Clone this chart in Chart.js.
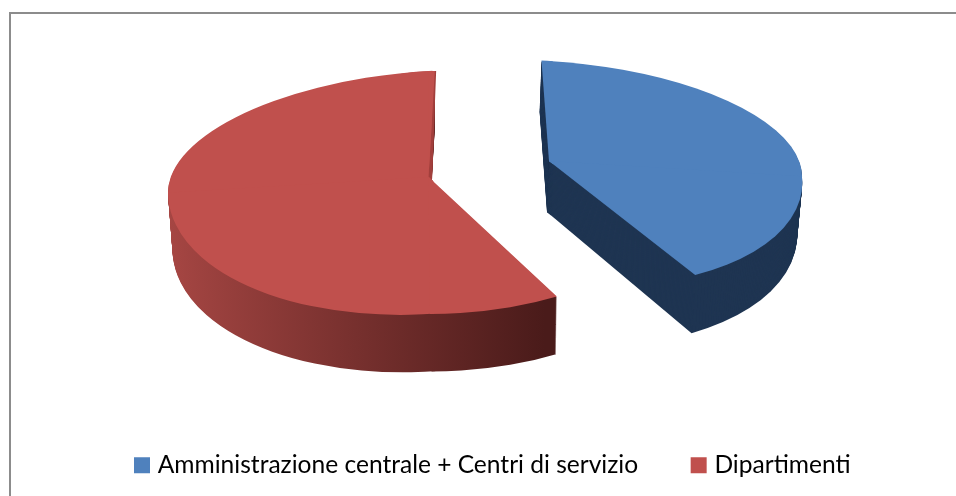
<!DOCTYPE html>
<html><head><meta charset="utf-8">
<script src="https://cdn.jsdelivr.net/npm/chart.js@4"></script>
<style>
html,body{margin:0;padding:0;background:#fff;width:956px;height:496px;overflow:hidden}
#frame{position:absolute;left:9px;top:12px;right:-10px;bottom:-10px;border-left:2px solid #8c8c8c;border-top:2px solid #8c8c8c}
canvas{position:absolute;left:0;top:0}
</style></head><body>
<div id="frame"></div>
<canvas id="c" width="956" height="496"></canvas>
<script>
const categories = ["Amministrazione centrale + Centri di servizio", "Dipartimenti"];
const shareValues = [41.5, 58.5];
const faceColors = ["#4f81bd", "#c0504d"];

// Projection of each slice: a flat Chart.js arc seen at an angle, exploded from the centre.
const views = [
  { rot: 0,
    top: {ax:549, ay:161, rx:253, k:0.06, kr:0.06, up:100, down:125.4, c:13},
    bottom: {ax:547, ay:212, rx:250, k:0.06, kr:0.06, up:100, down:134, c:13} },
  { rot: 3.1,
    top: {ax:428.5, ay:177, rx:260.5, k:-0.06, kr:0, up:106, down:137, c:1.5},
    bottom: {ax:428.5, ay:235, rx:256, k:-0.06, kr:0, up:106, down:136.5, c:3},
    wall: {ax:432, ay:180, rx:170, k:-0.03, kr:0, up:109, down:109, c:0}, wallColor:"#a23f3c" }
];
const depthSteps = 58;
const legendShift = {x:81.5, y:-8.5};

function mix(a,b,t){const o={};for(const n in a)o[n]=a[n]+(b[n]-a[n])*t;return o;}

function drawPiece(ctx, el, p, rot, R, fill, halves){
  const shade = Object.create(el);
  shade.options = {backgroundColor:fill,borderColor:fill,borderWidth:0,borderAlign:'center',borderRadius:0,offset:0,spacing:0,circular:true};
  const lap = 3;
  for(const h of halves){
    for(const w of [-1,1]){
      ctx.save();
      ctx.transform(p.rx/R, (w>0?p.kr:p.k)*p.rx/R, (h>0?p.c:0)/R, (h>0?p.down:p.up)/R, p.ax, p.ay);
      ctx.beginPath();
      ctx.rect(w<0?-2*R:0, h<0?-2*R:0, 2*R+(w<0?lap:0), 2*R+(h<0?lap:0));
      ctx.clip();
      ctx.rotate(rot*Math.PI/180);
      ctx.translate(-el.x,-el.y);
      shade.draw(ctx);
      ctx.restore();
    }
  }
}

const tiltedPie = {
  id:'tiltedPie',
  afterLayout(chart){
    const l = chart.legend;
    l.left += legendShift.x; l.right += legendShift.x;
    l.top += legendShift.y; l.bottom += legendShift.y;
  },
  beforeDatasetsDraw(chart){
    const ctx = chart.ctx, arcs = chart.getDatasetMeta(0).data;
    arcs.forEach((el,i)=>{
      const v = views[i], R = el.outerRadius;
      for(let s=depthSteps;s>=1;s--){
        const p = mix(v.top, v.bottom, s/depthSteps);
        let fill = "#1f3552";
        if(i===1){
          fill = ctx.createLinearGradient(el.x-R,0,el.x+R*0.49,0);
          fill.addColorStop(0,"#a64643");
          fill.addColorStop(1,"#4a1b1a");
        }
        drawPiece(ctx, el, p, v.rot, R, fill, [-1,1]);
      }
      if(v.wall) drawPiece(ctx, el, v.wall, v.rot, R, v.wallColor, [-1]);
      drawPiece(ctx, el, v.top, v.rot, R, faceColors[i], [-1,1]);
    });
    return false;
  }
};

new Chart(document.getElementById('c'),{
  type:'pie',
  data:{labels:categories,datasets:[{data:shareValues,backgroundColor:faceColors,borderWidth:0}]},
  options:{
    responsive:false,animation:false,rotation:-1.7,
    plugins:{
      tooltip:{enabled:false},
      legend:{position:'bottom',align:'start',labels:{
        padding:57,boxWidth:7,boxHeight:7,color:'#000',
        font:{family:'Lato',size:24.56},
        generateLabels(chart){
          return categories.map((t,i)=>({text:t,fillStyle:faceColors[i],strokeStyle:faceColors[i],lineWidth:9,fontColor:'#000',index:i}));
        }
      }}
    }
  },
  plugins:[tiltedPie]
});
</script>
</body></html>
